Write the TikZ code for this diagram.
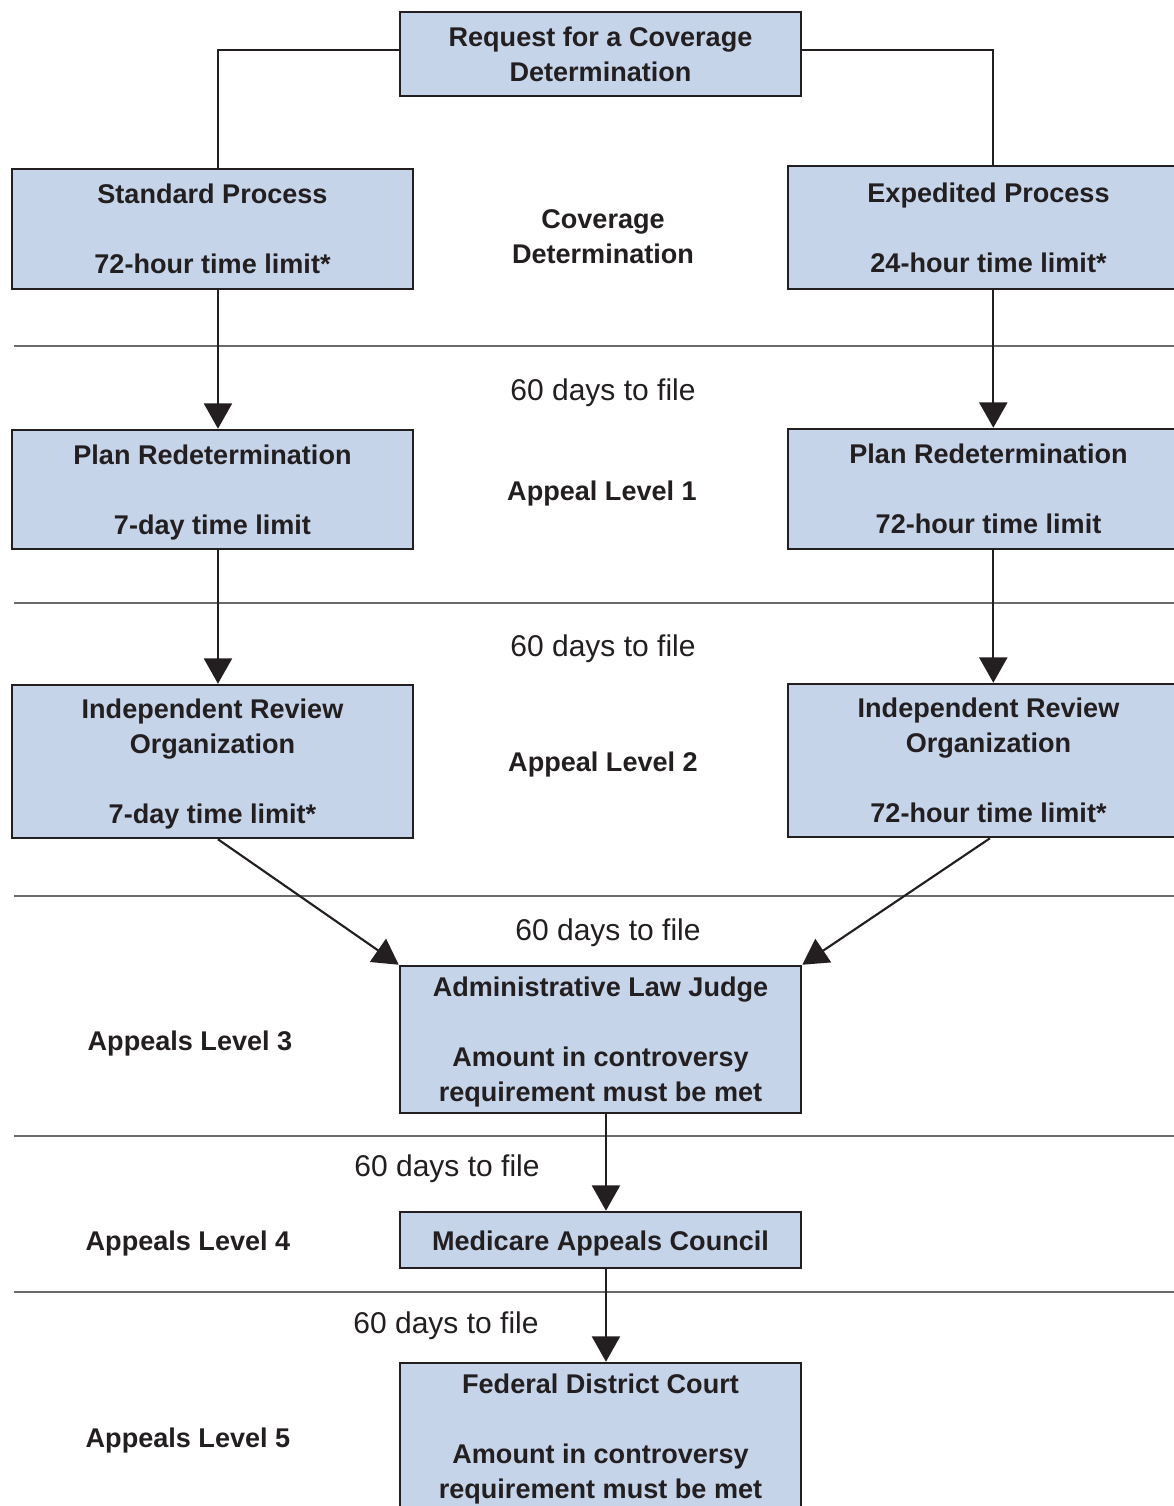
\documentclass[tikz,border=0pt]{standalone}
\usepackage{fontspec}
\setmainfont{Liberation Sans}
\usetikzlibrary{arrows.meta}
\definecolor{boxfill}{HTML}{C6D4EA}
\definecolor{ink}{HTML}{231F20}
\definecolor{sepgray}{HTML}{6A6A6A}
\begin{document}
\begin{tikzpicture}[x=0.75pt,y=-0.75pt,
  box/.style={draw=ink, line width=1.9pt, fill=boxfill, inner sep=0pt, minimum width=300.75pt, align=center, font=\fontsize{20.3}{26.3}\selectfont\bfseries, text=ink, text depth=-2.3pt},
  onebox/.style={box, text height=20pt, text depth=4.5pt},
  conn/.style={draw=ink, line width=1.6pt},
  arr/.style={conn, -{Triangle[width=21pt,length=19pt]}},
  sep/.style={draw=sepgray, line width=1.1pt},
  lbl/.style={font=\fontsize{20.3}{26.3}\selectfont\bfseries, text=ink, align=center, inner sep=0pt},
  filelbl/.style={font=\fontsize{22.5}{26}\selectfont, text=ink, inner sep=0pt, anchor=base}
]
\useasboundingbox (0,0) rectangle (1174,1506);
\clip (0,0) rectangle (1174,1506);
\fill[white] (0,0) rectangle (1174,1506);

% separators
\draw[sep] (14,346) -- (1174,346);
\draw[sep] (14,603) -- (1174,603);
\draw[sep] (14,896) -- (1174,896);
\draw[sep] (14,1136) -- (1174,1136);
\draw[sep] (14,1292) -- (1174,1292);

% boxes
\node[box, minimum height=63pt] (req) at (600.5,54) {Request for a Coverage\\Determination};
\node[box, minimum height=90pt] (std) at (212.5,229) {Standard Process\\[26.3pt]72-hour time limit*};
\node[box, minimum height=92.25pt] (exp) at (988.5,227.5) {Expedited Process\\[26.3pt]24-hour time limit*};
\node[box, minimum height=89.25pt] (prL) at (212.5,489.5) {Plan Redetermination\\[26.3pt]7-day time limit};
\node[box, minimum height=90pt] (prR) at (988.5,489) {Plan Redetermination\\[26.3pt]72-hour time limit};
\node[box, minimum height=114.75pt] (iroL) at (212.5,761.5) {Independent Review\\Organization\\[26.3pt]7-day time limit*};
\node[box, minimum height=114.75pt] (iroR) at (988.5,760.5) {Independent Review\\Organization\\[26.3pt]72-hour time limit*};
\node[box, minimum height=110.25pt] (alj) at (600.5,1039.5) {Administrative Law Judge\\[26.3pt]Amount in controversy\\requirement must be met};
\node[onebox, minimum height=42pt] (mac) at (600.5,1240) {Medicare Appeals Council};
\node[box, minimum height=110.25pt] (fdc) at (600.5,1436.5) {Federal District Court\\[26.3pt]Amount in controversy\\requirement must be met};

% labels
\node[lbl] (cd) at (603,237) {Coverage\\Determination};
\node[lbl, anchor=base] (al1) at (602,500) {Appeal Level 1};
\node[lbl, anchor=base] (al2) at (603,771) {Appeal Level 2};
\node[lbl, anchor=base] (al3) at (190,1050) {Appeals Level 3};
\node[lbl, anchor=base] (al4) at (188,1250) {Appeals Level 4};
\node[lbl, anchor=base] (al5) at (188,1447) {Appeals Level 5};
\node[filelbl] (f1) at (603,400) {60 days to file};
\node[filelbl] (f2) at (603,656) {60 days to file};
\node[filelbl] (f3) at (608,940) {60 days to file};
\node[filelbl] (f4) at (447,1176) {60 days to file};
\node[filelbl] (f5) at (446,1333) {60 days to file};

% connectors
\draw[conn] ([yshift=3pt]req.west) -| ([xshift=4.1pt]std.north);
\draw[conn] ([yshift=3pt]req.east) -| ([xshift=3.6pt]exp.north);
\draw[arr] ([xshift=4.1pt]std.south) -- ([xshift=4.1pt]prL.north);
\draw[arr] ([xshift=3.6pt]exp.south) -- ([xshift=3.6pt]prR.north);
\draw[arr] ([xshift=4.1pt]prL.south) -- ([xshift=4.1pt]iroL.north);
\draw[arr] ([xshift=3.6pt]prR.south) -- ([xshift=3.6pt]iroR.north);
\draw[arr] ([xshift=4.1pt]iroL.south) -- (alj.north west);
\draw[arr] ([xshift=1.1pt]iroR.south) -- (alj.north east);
\draw[arr] ([xshift=4.1pt]alj.south) -- ([xshift=4.1pt]mac.north);
\draw[arr] ([xshift=4.1pt]mac.south) -- ([xshift=4.1pt]fdc.north);
\end{tikzpicture}
\end{document}
